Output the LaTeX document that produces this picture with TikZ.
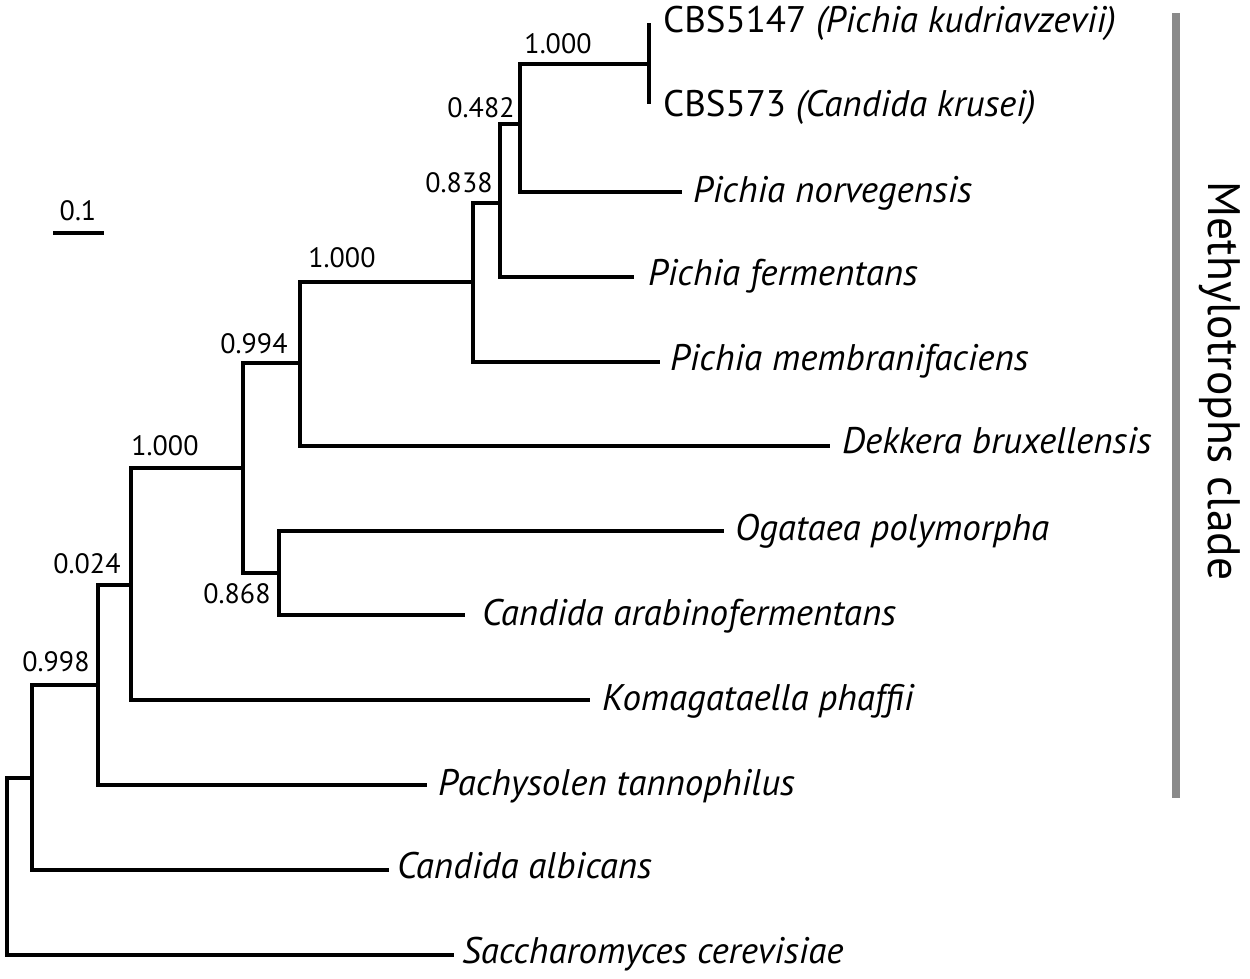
\documentclass[tikz,border=0pt]{standalone}
\usepackage{fontspec}
\setmainfont{PT Sans}
\definecolor{barc}{RGB}{138,138,138}
\tikzset{
  br/.style={line width=3.2pt, line cap=rect, line join=miter},
  taxon/.style={anchor=base west, inner sep=0pt, font=\fontsize{37}{42}\selectfont\itshape},
  cbs/.style={anchor=base west, inner sep=0pt, font=\fontsize{37}{42}\selectfont},
  supp/.style={anchor=center, inner sep=0pt, font=\fontsize{28}{32}\selectfont},
}
\begin{document}
\begin{tikzpicture}[x=1pt,y=-1pt]
\useasboundingbox (0,0) rectangle (1250,979);
% internal nodes
\coordinate (root) at (7,866);
\coordinate (nA) at (32,778);
\coordinate (n998) at (98,685);
\coordinate (n024) at (131,585);
\coordinate (nC) at (243,468);
\coordinate (n868) at (279,573);
\coordinate (n994) at (300,363);
\coordinate (nB) at (473,282);
\coordinate (n838) at (500,203);
\coordinate (n482) at (520,124);
\coordinate (nT) at (649,64);
% leaf ends
\coordinate (l1) at (649,25);
\coordinate (l2) at (649,102);
\coordinate (l3) at (680,192);
\coordinate (l4) at (632,277);
\coordinate (l5) at (658,362);
\coordinate (l6) at (828,446);
\coordinate (l7) at (722,531);
\coordinate (l8) at (463,615);
\coordinate (l9) at (588,700);
\coordinate (l10) at (425,785);
\coordinate (l11) at (387,870);
\coordinate (l12) at (452,955);
% branches
\draw[br] (root) |- (nA);
\draw[br] (root) |- (l12);
\draw[br] (nA) |- (n998);
\draw[br] (nA) |- (l11);
\draw[br] (n998) |- (n024);
\draw[br] (n998) |- (l10);
\draw[br] (n024) |- (nC);
\draw[br] (n024) |- (l9);
\draw[br] (nC) |- (n994);
\draw[br] (nC) |- (n868);
\draw[br] (n868) |- (l7);
\draw[br] (n868) |- (l8);
\draw[br] (n994) |- (nB);
\draw[br] (n994) |- (l6);
\draw[br] (nB) |- (n838);
\draw[br] (nB) |- (l5);
\draw[br] (n838) |- (n482);
\draw[br] (n838) |- (l4);
\draw[br] (n482) |- (nT);
\draw[br] (n482) |- (l3);
\draw[br] (nT) -- (l1);
\draw[br] (nT) -- (l2);
% taxa
\node[cbs] (t1) at (663,33) {CBS5147 \textit{(Pichia kudriavzevii)}};
\node[cbs] (t2) at (663,117) {CBS573 \textit{(Candida krusei)}};
\node[taxon] (t3) at (693,202) {Pichia norvegensis};
\node[taxon] (t4) at (648,285) {Pichia fermentans};
\node[taxon] (t5) at (670,370) {Pichia membranifaciens};
\node[taxon] (t6) at (842,453) {Dekkera bruxellensis};
\node[taxon] (t7) at (735,540) {Ogataea polymorpha};
\node[taxon] (t8) at (482,625) {Candida arabinofermentans};
\node[taxon] (t9) at (602,710) {Komagataella phaffii};
\node[taxon] (t10) at (438,795) {Pachysolen tannophilus};
\node[taxon] (t11) at (397,878) {Candida albicans};
\node[taxon] (t12) at (462,963) {Saccharomyces cerevisiae};
% support values
\node[supp] (s1) at (558,44) {1.000};
\node[supp] (s2) at (481,108) {0.482};
\node[supp] (s3) at (459,183) {0.838};
\node[supp] (s4) at (342,258) {1.000};
\node[supp] (s5) at (254,344) {0.994};
\node[supp] (s6) at (165,446) {1.000};
\node[supp] (s7) at (237,594) {0.868};
\node[supp] (s8) at (87,564) {0.024};
\node[supp] (s9) at (56,662) {0.998};
% scale bar
\coordinate (sb1) at (53,233);
\coordinate (sb2) at (104,233);
\draw[line width=3.2pt] (sb1) -- (sb2);
\node[supp] (sbl) at (78,211) {0.1};
% clade bar
\coordinate (cb1) at (1176,13);
\coordinate (cb2) at (1176,798);
\draw[barc, line width=8pt] (cb1) -- (cb2);
\node[anchor=base, inner sep=0pt, rotate=-90, font=\fontsize{45.5}{52}\selectfont] (clade) at (1208,381) {Methylotrophs clade};
\end{tikzpicture}
\end{document}
